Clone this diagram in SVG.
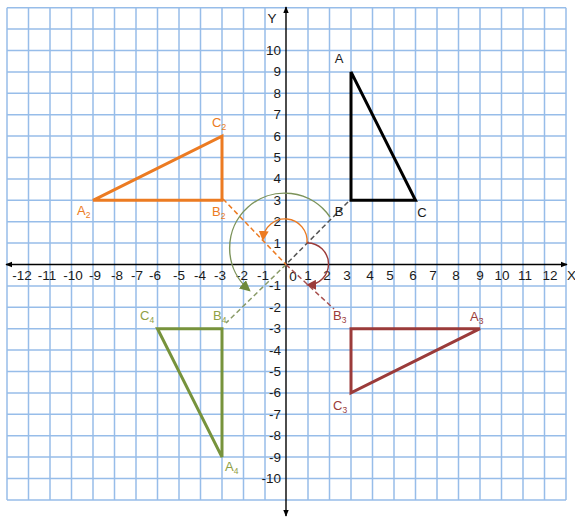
<svg xmlns="http://www.w3.org/2000/svg" width="575" height="518" viewBox="0 0 575 518">
<defs>
<style>
.grid line{stroke:#97BDE9;stroke-width:1.5}
.ax{stroke:#000;stroke-width:1.4;fill:none}
.num{font-family:"Liberation Sans",Arial,sans-serif;font-size:13.5px;fill:#1a1a1a}
.lab{font-family:"Liberation Sans",Arial,sans-serif;font-size:13px}
.sub{font-size:8.5px}
.tri{fill:none;stroke-width:3;stroke-linejoin:miter}
.dash{fill:none;stroke-width:1.5;stroke-dasharray:5 3}
.arc{fill:none;stroke-width:1.4}
</style>
<marker id="axArrow" viewBox="0 0 10 10" refX="9" refY="5" markerWidth="7" markerHeight="7" markerUnits="userSpaceOnUse" orient="auto"><path d="M0,1 L10,5 L0,9 z" fill="#000"/></marker>
<marker id="arO" viewBox="0 0 10 10" refX="8" refY="5" markerWidth="10" markerHeight="10" markerUnits="userSpaceOnUse" orient="auto"><path d="M0,0 L10,5 L0,10 z" fill="#EC7B22"/></marker>
<marker id="arM" viewBox="0 0 10 10" refX="8" refY="5" markerWidth="10" markerHeight="10" markerUnits="userSpaceOnUse" orient="auto"><path d="M0,0 L10,5 L0,10 z" fill="#9B3B3A"/></marker>
<marker id="arG" viewBox="0 0 10 10" refX="8" refY="5" markerWidth="11" markerHeight="11" markerUnits="userSpaceOnUse" orient="auto"><path d="M0,0 L10,5 L0,10 z" fill="#6E8A3C"/></marker>
</defs>
<rect width="575" height="518" fill="#fff"/>
<g class="grid">
<line x1="7" y1="7.7" x2="7" y2="499.9"/><line x1="28.5" y1="7.7" x2="28.5" y2="499.9"/><line x1="50" y1="7.7" x2="50" y2="499.9"/><line x1="71.5" y1="7.7" x2="71.5" y2="499.9"/><line x1="93" y1="7.7" x2="93" y2="499.9"/><line x1="114.5" y1="7.7" x2="114.5" y2="499.9"/><line x1="136" y1="7.7" x2="136" y2="499.9"/><line x1="157.5" y1="7.7" x2="157.5" y2="499.9"/><line x1="179" y1="7.7" x2="179" y2="499.9"/><line x1="200.5" y1="7.7" x2="200.5" y2="499.9"/><line x1="222" y1="7.7" x2="222" y2="499.9"/><line x1="243.5" y1="7.7" x2="243.5" y2="499.9"/><line x1="265" y1="7.7" x2="265" y2="499.9"/><line x1="308" y1="7.7" x2="308" y2="499.9"/><line x1="329.5" y1="7.7" x2="329.5" y2="499.9"/><line x1="351" y1="7.7" x2="351" y2="499.9"/><line x1="372.5" y1="7.7" x2="372.5" y2="499.9"/><line x1="394" y1="7.7" x2="394" y2="499.9"/><line x1="415.5" y1="7.7" x2="415.5" y2="499.9"/><line x1="437" y1="7.7" x2="437" y2="499.9"/><line x1="458.5" y1="7.7" x2="458.5" y2="499.9"/><line x1="480" y1="7.7" x2="480" y2="499.9"/><line x1="501.5" y1="7.7" x2="501.5" y2="499.9"/><line x1="523" y1="7.7" x2="523" y2="499.9"/><line x1="544.5" y1="7.7" x2="544.5" y2="499.9"/><line x1="566" y1="7.7" x2="566" y2="499.9"/>
<line x1="7" y1="7.7" x2="566" y2="7.7"/><line x1="7" y1="29.1" x2="566" y2="29.1"/><line x1="7" y1="50.5" x2="566" y2="50.5"/><line x1="7" y1="71.9" x2="566" y2="71.9"/><line x1="7" y1="93.3" x2="566" y2="93.3"/><line x1="7" y1="114.7" x2="566" y2="114.7"/><line x1="7" y1="136.1" x2="566" y2="136.1"/><line x1="7" y1="157.5" x2="566" y2="157.5"/><line x1="7" y1="178.9" x2="566" y2="178.9"/><line x1="7" y1="200.3" x2="566" y2="200.3"/><line x1="7" y1="221.7" x2="566" y2="221.7"/><line x1="7" y1="243.1" x2="566" y2="243.1"/><line x1="7" y1="285.9" x2="566" y2="285.9"/><line x1="7" y1="307.3" x2="566" y2="307.3"/><line x1="7" y1="328.7" x2="566" y2="328.7"/><line x1="7" y1="350.1" x2="566" y2="350.1"/><line x1="7" y1="371.5" x2="566" y2="371.5"/><line x1="7" y1="392.9" x2="566" y2="392.9"/><line x1="7" y1="414.3" x2="566" y2="414.3"/><line x1="7" y1="435.7" x2="566" y2="435.7"/><line x1="7" y1="457.1" x2="566" y2="457.1"/><line x1="7" y1="478.5" x2="566" y2="478.5"/><line x1="7" y1="499.9" x2="566" y2="499.9"/>
</g>
<g id="axes">
<line class="ax" x1="286" y1="264.5" x2="567" y2="264.5" marker-end="url(#axArrow)"/>
<line class="ax" x1="286" y1="264.5" x2="6" y2="264.5" marker-end="url(#axArrow)"/>
<line class="ax" x1="286" y1="264.5" x2="286" y2="7" marker-end="url(#axArrow)"/>
<line class="ax" x1="286" y1="264.5" x2="286" y2="516" marker-end="url(#axArrow)"/>
<text class="num" x="272" y="23" text-anchor="middle">Y</text>
<text class="num" x="567" y="280">X</text>
<g text-anchor="middle">
<text class="num" x="22" y="280">-12</text><text class="num" x="47" y="280">-11</text><text class="num" x="73" y="280">-10</text><text class="num" x="95" y="280">-9</text><text class="num" x="117" y="280">-8</text><text class="num" x="137" y="280">-7</text><text class="num" x="155" y="280">-6</text><text class="num" x="179" y="280">-5</text><text class="num" x="200" y="280">-4</text><text class="num" x="220" y="280">-3</text><text class="num" x="242" y="280">-2</text><text class="num" x="263" y="280">-1</text><text class="num" x="293" y="281">0</text><text class="num" x="308" y="280">1</text><text class="num" x="327" y="280">2</text><text class="num" x="347" y="280">3</text><text class="num" x="370" y="280">4</text><text class="num" x="390" y="280">5</text><text class="num" x="413" y="280">6</text><text class="num" x="433" y="280">7</text><text class="num" x="456" y="280">8</text><text class="num" x="480" y="280">9</text><text class="num" x="502" y="280">10</text><text class="num" x="525" y="280">11</text><text class="num" x="550" y="280">12</text>
</g>
<g text-anchor="end">
<text class="num" x="281" y="55">10</text><text class="num" x="281" y="76.4">9</text><text class="num" x="281" y="97.8">8</text><text class="num" x="281" y="119.2">7</text><text class="num" x="281" y="140.6">6</text><text class="num" x="281" y="162">5</text><text class="num" x="281" y="183.4">4</text><text class="num" x="281" y="204.8">3</text><text class="num" x="281" y="226.2">2</text><text class="num" x="281" y="247.6">1</text><text class="num" x="281" y="290.4">-1</text><text class="num" x="281" y="311.8">-2</text><text class="num" x="281" y="333.2">-3</text><text class="num" x="281" y="354.6">-4</text><text class="num" x="281" y="376">-5</text><text class="num" x="281" y="397.4">-6</text><text class="num" x="281" y="418.8">-7</text><text class="num" x="281" y="440.2">-8</text><text class="num" x="281" y="461.6">-9</text><text class="num" x="281" y="483">-10</text>
</g>
</g>
<g id="connectors">
<line class="dash" x1="348" y1="202" x2="286" y2="264.5" stroke="#555"/>
<line class="dash" x1="286" y1="264.5" x2="226" y2="323" stroke="#8A9B68"/>
<line class="dash" x1="223" y1="199" x2="286" y2="264.5" stroke="#EC7B22"/>
<line class="dash" x1="286" y1="264.5" x2="334" y2="309" stroke="#A8504E"/>
<path class="arc" d="M330,217 A55,55 0 1 0 249,290" stroke="#7C935A" marker-end="url(#arG)"/>
<path class="arc" d="M307,243 A22,22 0 0 0 263,239" stroke="#EC7B22" marker-end="url(#arO)"/>
<path class="arc" d="M307,243 A21,21 0 0 1 308,285" stroke="#9B3B3A" marker-end="url(#arM)"/>
</g>
<g id="triangle-ABC">
<polygon class="tri" points="351,71.9 351,200.3 415.5,200.3" stroke="#000"/>
<text class="lab" x="339" y="63" text-anchor="middle" fill="#1a1a1a">A</text>
<text class="lab" x="339" y="216" text-anchor="middle" fill="#1a1a1a">B</text>
<text class="lab" x="422" y="217" text-anchor="middle" fill="#1a1a1a">C</text>
</g>
<g id="triangle-A2B2C2" fill="#EC7B22">
<polygon class="tri" points="93,200.3 222,200.3 222,136.1" stroke="#EC7B22"/>
<text class="lab" x="77" y="215">A<tspan class="sub" dy="3">2</tspan></text>
<text class="lab" x="212" y="216">B<tspan class="sub" dy="3">2</tspan></text>
<text class="lab" x="212" y="127">C<tspan class="sub" dy="3">2</tspan></text>
</g>
<g id="triangle-A3B3C3" fill="#9B3B3A">
<polygon class="tri" points="480,328.7 351,328.7 351,392.9" stroke="#9B3B3A"/>
<text class="lab" x="470" y="321">A<tspan class="sub" dy="3">3</tspan></text>
<text class="lab" x="333" y="320">B<tspan class="sub" dy="3">3</tspan></text>
<text class="lab" x="333" y="410">C<tspan class="sub" dy="3">3</tspan></text>
</g>
<g id="triangle-A4B4C4" fill="#8FA045">
<polygon class="tri" points="222,457.1 222,328.7 157.5,328.7" stroke="#77933C"/>
<text class="lab" x="225" y="471">A<tspan class="sub" dy="3">4</tspan></text>
<text class="lab" x="213" y="320">B<tspan class="sub" dy="3">4</tspan></text>
<text class="lab" x="140" y="320">C<tspan class="sub" dy="3">4</tspan></text>
</g>
</svg>
